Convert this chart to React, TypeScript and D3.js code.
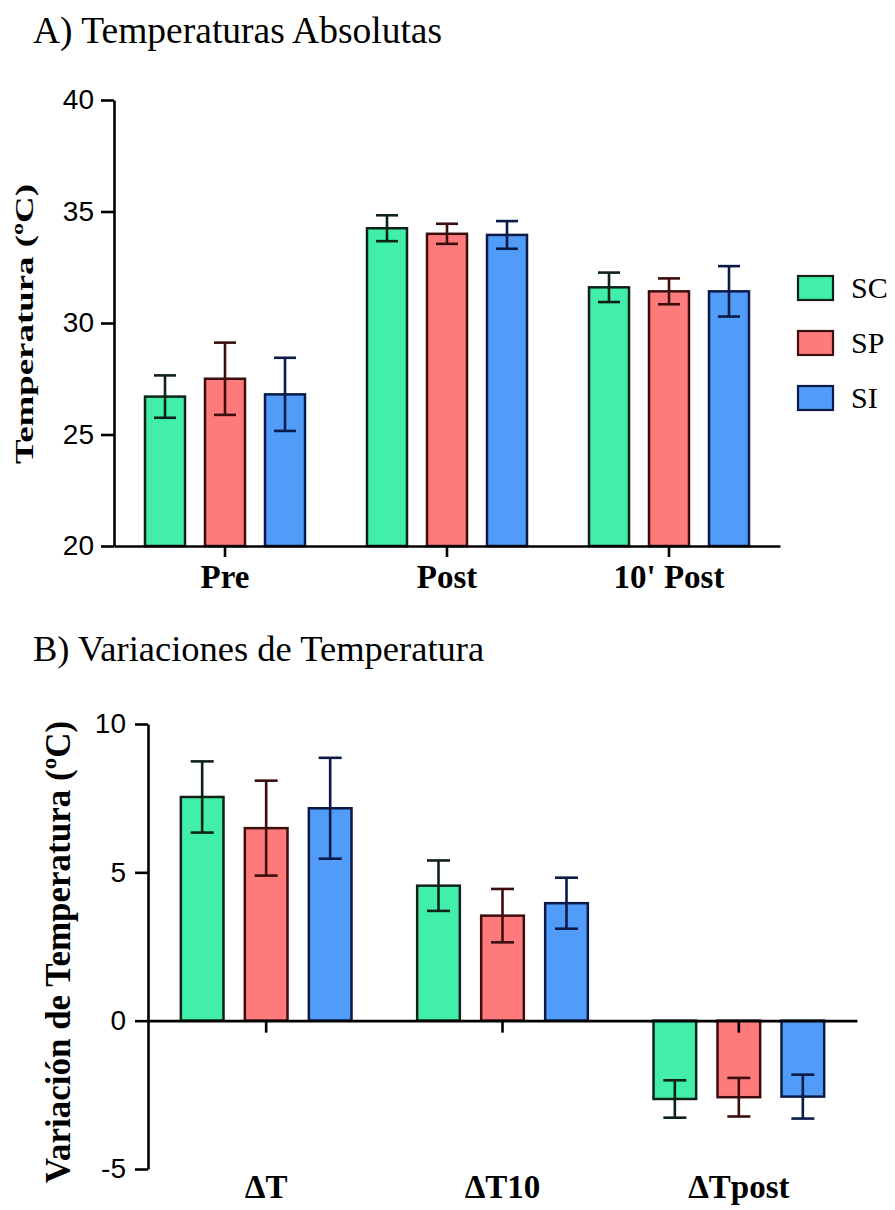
import React, { useEffect, useRef } from "react";
import * as d3 from "d3";

// groups and colours
const series = ["SC", "SP", "SI"];
const fillColors = ["#41efab", "#ff7b7b", "#509cf8"];
const edgeColors = ["#0e2219", "#3b0d0d", "#0b1a46"];

// A) absolute temperatures
const absCategories = ["Pre", "Post", "10' Post"];
const absSC = [26.7, 34.25, 31.6];
const absSCErr = [0.95, 0.58, 0.66];
const absSP = [27.5, 34.0, 31.42];
const absSPErr = [1.62, 0.45, 0.58];
const absSI = [26.8, 33.95, 31.42];
const absSIErr = [1.64, 0.62, 1.13];
const absTicks = [20, 25, 30, 35, 40];

// B) temperature variations
const varCategories = ["ΔT", "ΔT10", "ΔTpost"];
const varSC = [7.54, 4.55, -2.64];
const varSCErr = [1.2, 0.85, 0.63];
const varSP = [6.49, 3.54, -2.58];
const varSPErr = [1.6, 0.9, 0.65];
const varSI = [7.16, 3.96, -2.56];
const varSIErr = [1.7, 0.86, 0.74];
const varTicks = [-5, 0, 5, 10];

const serif = "'Liberation Serif', 'Times New Roman', serif";
const sans = "'Liberation Sans', Arial, sans-serif";

type Panel = {
  categories: string[];
  values: number[][];
  errors: number[][];
  x: d3.ScaleBand<string>;
  inner: d3.ScaleBand<string>;
  y: d3.ScaleLinear<number, number>;
  base: number;
};

const Bars = ({ p, cap }: { p: Panel; cap: number }) => (
  <g>
    {p.categories.map((c, ci) =>
      series.map((s, si) => {
        const v = p.values[si][ci];
        const e = p.errors[si][ci];
        const x0 = (p.x(c) as number) + p.x.bandwidth() / 2 + (p.inner(s) as number);
        const w = p.inner.bandwidth();
        const cx = x0 + w / 2;
        const y0 = p.y(Math.max(v, p.base));
        const y1 = p.y(Math.min(v, p.base));
        return (
          <g key={c + s}>
            <rect x={x0} y={y0} width={w} height={y1 - y0} fill={fillColors[si]} stroke={edgeColors[si]} strokeWidth={2.5} />
            <g stroke={edgeColors[si]} strokeWidth={2.6}>
              <line x1={cx} x2={cx} y1={p.y(v - e)} y2={p.y(v + e)} />
              <line x1={cx - cap / 2} x2={cx + cap / 2} y1={p.y(v - e)} y2={p.y(v - e)} />
              <line x1={cx - cap / 2} x2={cx + cap / 2} y1={p.y(v + e)} y2={p.y(v + e)} />
            </g>
          </g>
        );
      })
    )}
  </g>
);

export default function App() {
  const axARef = useRef<SVGGElement>(null);
  const axAxRef = useRef<SVGGElement>(null);
  const axBRef = useRef<SVGGElement>(null);
  const axBxRef = useRef<SVGGElement>(null);

  // panel A scales
  const xA = d3.scaleBand<string>().domain(absCategories).range([114, 780]);
  const innerA = d3.scaleBand<string>().domain(series).range([-90, 90]).paddingInner(1 / 3).paddingOuter(1 / 6);
  const yA = d3.scaleLinear().domain([20, 40]).range([546, 100]);

  // panel B scales
  const xB = d3.scaleBand<string>().domain(varCategories).range([148, 857]);
  const innerB = d3.scaleBand<string>().domain(series).range([-96, 96]).paddingInner(1 / 3).paddingOuter(1 / 6);
  const yB = d3.scaleLinear().domain([-5, 10]).range([1169, 724]);

  const panelA: Panel = {
    categories: absCategories,
    values: [absSC, absSP, absSI],
    errors: [absSCErr, absSPErr, absSIErr],
    x: xA, inner: innerA, y: yA, base: 20,
  };
  const panelB: Panel = {
    categories: varCategories,
    values: [varSC, varSP, varSI],
    errors: [varSCErr, varSPErr, varSIErr],
    x: xB, inner: innerB, y: yB, base: 0,
  };

  const legendY = d3.scaleBand<string>().domain(series).range([276, 441]);

  useEffect(() => {
    const styleAxis = (g: d3.Selection<SVGGElement, unknown, null, undefined>) => {
      g.selectAll("path, line").attr("stroke", "#000").attr("stroke-width", 2.6);
      g.selectAll("text").attr("fill", "#000").style("font-family", sans).style("font-size", "28px");
    };

    const ya = d3.select(axARef.current!);
    ya.call(d3.axisLeft(yA).tickValues(absTicks).tickSize(13).tickSizeOuter(0).tickPadding(7).tickFormat((d) => String(d)));
    styleAxis(ya);

    const xa = d3.select(axAxRef.current!);
    xa.call(d3.axisBottom(xA).tickSize(11).tickSizeOuter(0).tickFormat(() => ""));
    styleAxis(xa);

    const yb = d3.select(axBRef.current!);
    yb.call(d3.axisLeft(yB).tickValues(varTicks).tickSize(13).tickSizeOuter(0).tickPadding(9).tickFormat((d) => String(d)));
    styleAxis(yb);

    const xb = d3.select(axBxRef.current!);
    xb.call(d3.axisBottom(xB).tickSize(12).tickSizeOuter(0).tickFormat(() => ""));
    styleAxis(xb);
  }, []);

  return (
    <svg width={895} height={1210} style={{ position: "absolute", left: 0, top: 0, background: "#fff" }}>
      <rect width={895} height={1210} fill="#fff" />

      {/* A) Temperaturas Absolutas */}
      <text x={33} y={43} fontFamily={serif} fontSize={37.5}>A) Temperaturas Absolutas</text>
      <Bars p={panelA} cap={22} />
      <g ref={axARef} transform="translate(114,0)" />
      <g ref={axAxRef} transform={`translate(0,${yA(20)})`} />
      {absCategories.map((c) => (
        <text key={c} x={(xA(c) as number) + xA.bandwidth() / 2} y={588} textAnchor="middle" fontFamily={serif} fontWeight="bold" fontSize={33}>
          {c}
        </text>
      ))}
      <text
        transform="translate(33,324) rotate(-90)"
        textAnchor="middle"
        fontFamily={serif}
        fontWeight="bold"
        fontSize={26}
        textLength={280}
        lengthAdjust="spacingAndGlyphs"
      >
        Temperatura (ºC)
      </text>

      {/* legend */}
      {series.map((s, i) => (
        <g key={s}>
          <rect x={798} y={legendY(s)} width={35} height={24} fill={fillColors[i]} stroke={edgeColors[i]} strokeWidth={2.2} />
          <text x={851} y={(legendY(s) as number) + 22} fontFamily={serif} fontSize={30}>{s}</text>
        </g>
      ))}

      {/* B) Variaciones de Temperatura */}
      <text x={33} y={661} fontFamily={serif} fontSize={36.5}>B) Variaciones de Temperatura</text>
      <Bars p={panelB} cap={23} />
      <g ref={axBRef} transform="translate(148,0)" />
      <g ref={axBxRef} transform={`translate(0,${yB(0)})`} />
      {varCategories.map((c) => (
        <text key={c} x={(xB(c) as number) + xB.bandwidth() / 2} y={1198} textAnchor="middle" fontFamily={serif} fontWeight="bold" fontSize={33}>
          {c}
        </text>
      ))}
      <text
        transform="translate(70,952) rotate(-90)"
        textAnchor="middle"
        fontFamily={serif}
        fontWeight="bold"
        fontSize={35}
      >
        Variación de Temperatura (ºC)
      </text>
    </svg>
  );
}
